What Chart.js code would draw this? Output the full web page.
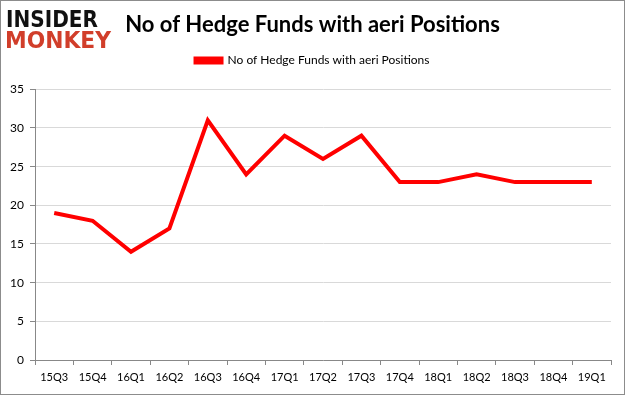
<!DOCTYPE html>
<html>
<head>
<meta charset="utf-8">
<script src="https://cdn.jsdelivr.net/npm/chart.js@4"></script>
<style>
  html, body { margin: 0; padding: 0; background: #fff; }
  #wrap { width: 625px; height: 395px; position: relative; }
</style>
</head>
<body>
<div id="wrap"><canvas id="myChart" width="625" height="395"></canvas></div>
<script>
// DATOS //
const quarters = ["15Q3", "15Q4", "16Q1", "16Q2", "16Q3", "16Q4", "17Q1", "17Q2", "17Q3", "17Q4", "18Q1", "18Q2", "18Q3", "18Q4", "19Q1"];
const hedgeFunds = [19, 18, 14, 17, 31, 24, 29, 26, 29, 23, 23, 24, 23, 23, 23];
const yTicks = [0, 5, 10, 15, 20, 25, 30, 35];
const seriesName = "No of Hedge Funds with aeri Positions";

// logo y borde //
const logoPlugin = {
  id: "logo",
  afterDraw(chart) {
    const ctx = chart.ctx;
    ctx.save();
    drawStretched(ctx, "INSIDER", 6, 27, 92, "#111111", 25);
    drawStretched(ctx, "MONKEY", 5, 48, 106, "#d13e2a", 25);
    ctx.strokeStyle = "#8c8c8c";
    ctx.lineWidth = 1;
    ctx.strokeRect(0.5, 0.5, chart.width - 1, chart.height - 1);
    ctx.restore();
  }
};

function drawStretched(ctx, text, x, y, w, color, size) {
  ctx.save();
  ctx.font = "900 " + size + "px 'DejaVu Sans'";
  const m = ctx.measureText(text).width;
  ctx.translate(x, y);
  ctx.scale(w / m, 0.9);
  ctx.fillStyle = color;
  ctx.textBaseline = "alphabetic";
  ctx.fillText(text, 0, 0);
  ctx.restore();
}

const ctx = document.getElementById("myChart").getContext("2d");
new Chart(ctx, {
  type: "line",
  data: {
    labels: quarters,
    datasets: [
      {
        label: seriesName,
        data: hedgeFunds,
        borderColor: "#ff0000",
        backgroundColor: "#ff0000",
        borderWidth: 4,
        pointRadius: 0,
        tension: 0,
        yAxisID: "y",
      },
    ],
  },
  options: {
    responsive: false,
    animation: false,
    layout: { padding: { left: 0, right: 0, top: 8, bottom: 0 } },
    plugins: {
      title: {
        display: true,
        text: "No of Hedge Funds with aeri Positions",
        color: "#000",
        font: { family: "Lato", size: 22, weight: "bold" },
        padding: { top: 4, bottom: 4 },
      },
      // espacio entre leyenda y grafico
      subtitle: {
        display: true,
        text: " ",
        weight: 500,
        font: { size: 2 },
        padding: { top: 0, bottom: 10.5 },
      },
      legend: {
        display: true,
        labels: {
          color: "#000",
          font: { family: "Lato", size: 12 },
          boxWidth: 26,
          boxHeight: 4,
          padding: 12,
        },
      },
      tooltip: { enabled: false },
    },
    scales: {
      x: {
        offset: true,
        grid: { display: true, drawOnChartArea: false, offset: true, color: "#888", tickLength: 5 },
        border: { color: "#888" },
        ticks: { color: "#000", font: { family: "Lato", size: 11 }, maxRotation: 0, autoSkip: false, padding: 6 },
        afterFit(scale) { scale.height = 35; },
      },
      y: {
        min: 0,
        max: 35,
        afterBuildTicks(scale) { scale.ticks = yTicks.map((v) => ({ value: v })); },
        grid: { color: "#d9d9d9", tickLength: 5, tickColor: "#888" },
        border: { color: "#888" },
        ticks: { color: "#000", font: { family: "Lato", size: 12 }, padding: 6 },
        afterFit(scale) { scale.width = 35; },
      },
      // margen derecho
      y2: {
        position: "right",
        min: 0,
        max: 35,
        grid: { display: false, drawTicks: false },
        border: { display: false },
        ticks: { display: false },
        afterFit(scale) { scale.width = 14; },
      },
    },
  },
  plugins: [logoPlugin],
});
</script>
</body>
</html>
